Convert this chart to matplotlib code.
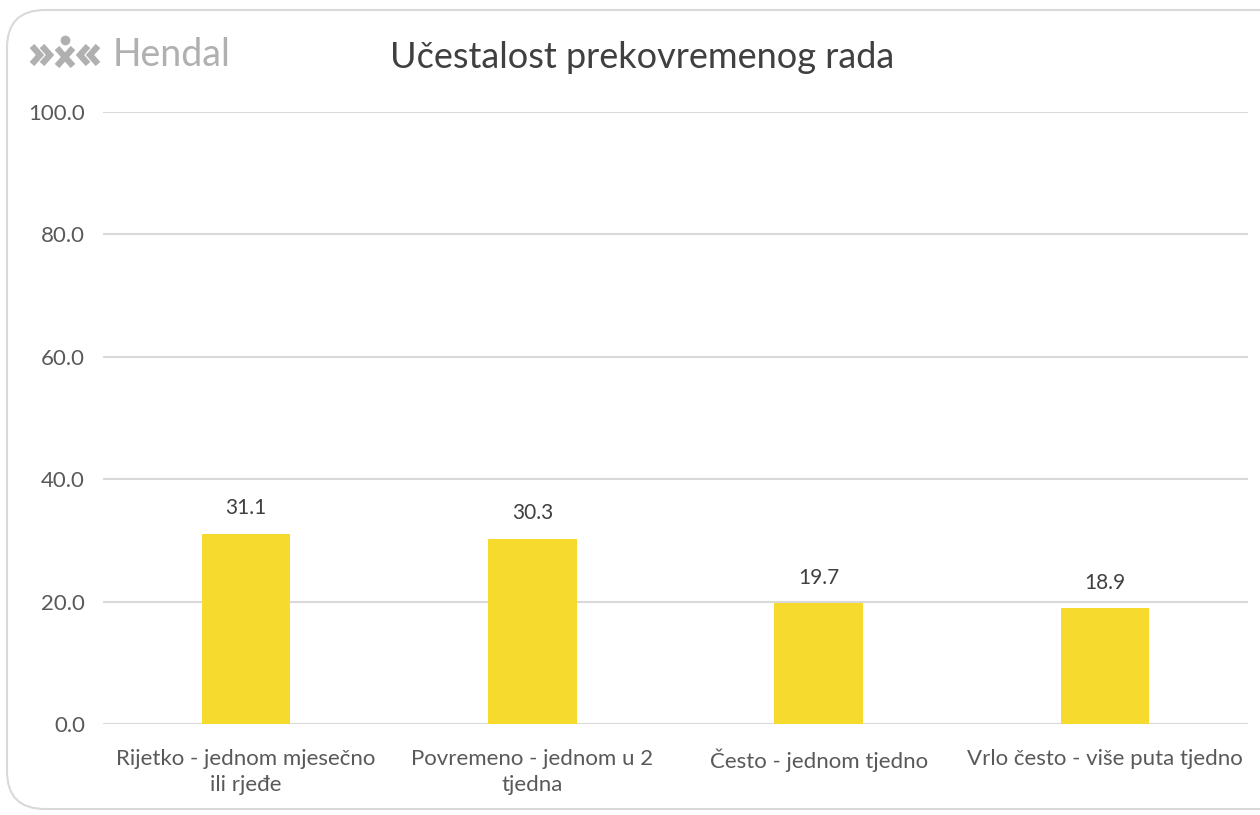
import matplotlib.pyplot as plt
from matplotlib.patches import FancyBboxPatch
from matplotlib.lines import Line2D

# Data for the chart
categories = ["Rijetko - jednom mjesečno\nili rjeđe", "Povremeno - jednom u 2\ntjedna",
              "Često - jednom tjedno", "Vrlo često - više puta tjedno"]
values = [31.1, 30.3, 19.7, 18.9]
yticks = [0, 20, 40, 60, 80, 100]

plt.rcParams['font.family'] = ['Lato', 'DejaVu Sans']

fig = plt.figure(figsize=(12.6, 8.15), dpi=100)

# rounded frame around the chart
frame = FancyBboxPatch((7 / 1260, 6 / 815), 1.05, 799 / 815,
                       boxstyle="round,pad=0,rounding_size=0.03",
                       transform=fig.transFigure, facecolor="none",
                       edgecolor="#d9d9d9", linewidth=1.5, zorder=-1,
                       mutation_aspect=1260 / 815)
fig.patches.append(frame)

ax = fig.add_axes([103 / 1260, 91 / 815, 1145 / 1260, 612 / 815])
ax.set_facecolor("none")

x = range(len(categories))
bars = ax.bar(x, values, width=0.31, color="#F7DA2E", zorder=3)
for xi, v in zip(x, values):
    ax.text(xi, v + 2.5, f"{v:.1f}", ha="center", va="bottom",
            fontsize=15, color="#404040")

ax.set_xlim(-0.5, 3.5)
ax.set_ylim(0, 100)
ax.set_yticks(yticks)
ax.set_yticklabels([f"{t:.1f}" for t in yticks], fontsize=16, color="#595959")
ax.set_xticks(list(x))
ax.set_xticklabels(categories, fontsize=16, color="#595959", linespacing=1.35)
ax.tick_params(length=0)
ax.tick_params(axis="x", pad=18)
ax.tick_params(axis="y", pad=13)
ax.grid(axis="y", color="#d9d9d9", linewidth=1.5, zorder=0)
for s in ax.spines.values():
    s.set_visible(False)

fig.text(642 / 1260, 1 - 57 / 815, "Učestalost prekovremenog rada",
         ha="center", va="center", fontsize=26, color="#404040")

# Hendal logo
fig.text(113 / 1260, 1 - 55 / 815, "Hendal", ha="left", va="center",
         fontsize=27, color="#b0b0b0")
logo_col = "#b0b0b0"
def px(xp, yp):
    return xp / 1260, 1 - yp / 815
segs = [
    [(32, 46), (40, 55), (32, 64)],
    [(42, 46), (50, 55), (42, 64)],
    [(98, 46), (90, 55), (98, 64)],
    [(88, 46), (80, 55), (88, 64)],
    [(57, 48), (73, 66)],
    [(73, 48), (57, 66)],
]
for seg in segs:
    xs, ys = zip(*[px(a, b) for a, b in seg])
    fig.add_artist(Line2D(xs, ys, color=logo_col, linewidth=4.5,
                          solid_capstyle="butt", solid_joinstyle="miter"))
fig.add_artist(Line2D([65 / 1260], [1 - 40 / 815], marker="o", markersize=6,
                      color=logo_col, linestyle="none"))

fig.savefig("out.png", dpi=100, facecolor="white")
